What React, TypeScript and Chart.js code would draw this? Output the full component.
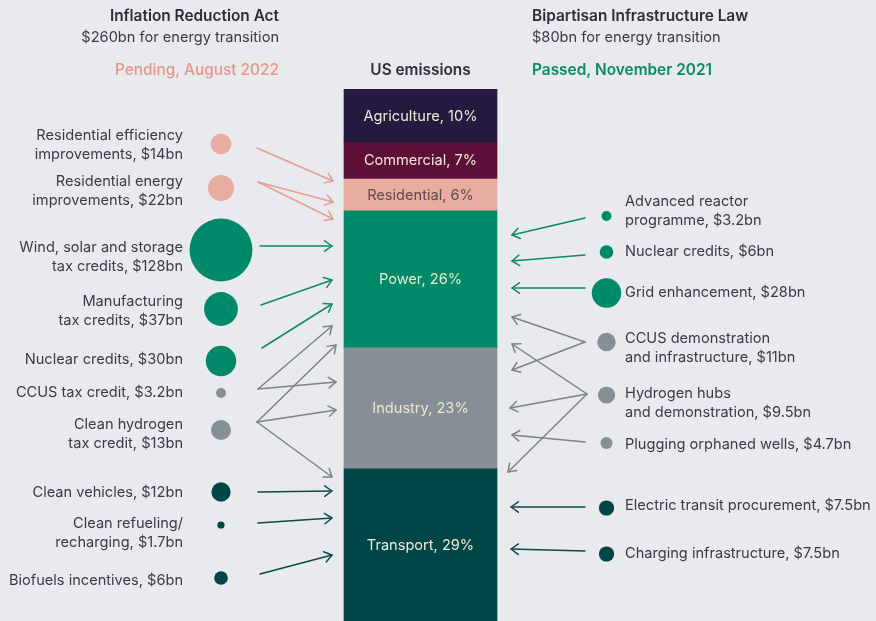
import React, { useEffect, useRef } from "react";
import { Chart, registerables } from "chart.js";
Chart.register(...registerables);

// ---------- data ----------
const sectors = ["Agriculture", "Commercial", "Residential", "Power", "Industry", "Transport"];
const sectorShares = [10, 7, 6, 26, 23, 29];

const iraLabels: string[][] = [
  ["Residential efficiency", "improvements, $14bn"],
  ["Residential energy", "improvements, $22bn"],
  ["Wind, solar and storage", "tax credits, $128bn"],
  ["Manufacturing", "tax credits, $37bn"],
  ["Nuclear credits, $30bn"],
  ["CCUS tax credit, $3.2bn"],
  ["Clean hydrogen", "tax credit, $13bn"],
  ["Clean vehicles, $12bn"],
  ["Clean refueling/", "recharging, $1.7bn"],
  ["Biofuels incentives, $6bn"],
];
const iraAmounts = [14, 22, 128, 37, 30, 3.2, 13, 12, 1.7, 6];
const iraSector = [2, 2, 3, 3, 3, 4, 4, 5, 5, 5];

const bilLabels: string[][] = [
  ["Advanced reactor", "programme, $3.2bn"],
  ["Nuclear credits, $6bn"],
  ["Grid enhancement, $28bn"],
  ["CCUS demonstration", "and infrastructure, $11bn"],
  ["Hydrogen hubs", "and demonstration, $9.5bn"],
  ["Plugging orphaned wells, $4.7bn"],
  ["Electric transit procurement, $7.5bn"],
  ["Charging infrastructure, $7.5bn"],
];
const bilAmounts = [3.2, 6, 28, 11, 9.5, 4.7, 7.5, 7.5];
const bilSector = [3, 3, 3, 4, 4, 4, 5, 5];

const headerLeft = ["Inflation Reduction Act", "$260bn for energy transition", "Pending, August 2022"];
const headerRight = ["Bipartisan Infrastructure Law", "$80bn for energy transition", "Passed, November 2021"];
const centerTitle = "US emissions";

// ---------- layout & style ----------
const W = 876;
const H = 621;
const BG = "#e9eaed";
const sectorColors = ["#24193e", "#5e0f38", "#e9aca1", "#008a6a", "#858f95", "#004647"];
const sectorTextColors = ["#f1e9d6", "#f1e9d6", "#5b4b4d", "#eee8cf", "#eee8cf", "#f1e9d6"];
const arrowColors = ["#24193e", "#5e0f38", "#e49c93", "#12876a", "#7a8489", "#0f4848"];
const labelColor = "#3c3a4a";
const FONT = "Inter, 'Noto Sans', sans-serif";
const LABEL_FONT = `14.6px ${FONT}`;
const BOLD_FONT = `600 15.4px ${FONT}`;

const barCenterX = 420.5;
const barWidth = 153;
const radiusPerRootBn = 2.78;

const iraBubbleX = 221;
const iraRowY = [144, 188, 250, 309, 361, 393, 430, 492, 525, 578];
const iraLabelX = 183;
const iraLabelY = [136, 182, 248, 302, 360, 393, 425, 493, 524, 581];
const bilBubbleX = 606.5;
const bilRowY = [216, 252, 293, 342, 395, 443, 508, 554];
const bilLabelX = 625;
const bilLabelY = [202, 252, 293, 339, 394, 445, 506, 554];
const lineGap = 18.5;

// arrows: [sourceRow, x0, y0, x1, y1]
const iraArrows = [
  [0, 257, 148, 333, 181],
  [1, 258, 182, 333, 202],
  [1, 258, 182, 333, 219],
  [2, 260, 246, 332, 246],
  [3, 261, 305, 332, 280],
  [4, 262, 348, 332, 304],
  [5, 258, 389, 332, 326],
  [5, 258, 389, 336, 382],
  [6, 257, 422, 336, 345],
  [6, 257, 422, 336, 410],
  [6, 257, 422, 332, 477],
  [7, 258, 492, 332, 491],
  [8, 258, 523, 332, 518],
  [9, 260, 574, 332, 555],
];
const bilArrows = [
  [0, 585, 218, 512, 235],
  [1, 585, 255, 512, 261],
  [2, 585, 288, 512, 288],
  [3, 585, 342, 512, 317],
  [3, 585, 342, 512, 370],
  [4, 587, 394, 512, 344],
  [4, 587, 394, 510, 408],
  [4, 587, 394, 508, 472],
  [5, 585, 442, 512, 435],
  [6, 585, 507, 511, 507],
  [7, 585, 551, 511, 549],
];

export default function App() {
  const ref = useRef<HTMLCanvasElement | null>(null);

  useEffect(() => {
    document.body.style.margin = "0";
    document.body.style.background = BG;
    const canvas = ref.current;
    if (!canvas) return;

    let acc = 0;
    const barSets = sectors.map((s, i) => {
      const start = acc;
      acc += sectorShares[i];
      return {
        type: "bar" as const,
        label: s,
        data: [{ x: barCenterX, y: [start, acc] }],
        backgroundColor: sectorColors[i],
        borderWidth: 0,
        barThickness: barWidth,
        grouped: false,
        xAxisID: "x",
        yAxisID: "y",
      };
    });
    const total = acc;

    const bubbleSet = (amounts: number[], sec: number[], x: number, rows: number[], label: string) => ({
      type: "bubble" as const,
      label,
      data: amounts.map((a, i) => ({ x, y: rows[i], r: radiusPerRootBn * Math.sqrt(a) })),
      backgroundColor: sec.map((s) => sectorColors[s]),
      borderWidth: 0,
      hoverRadius: 0,
      clip: false as any,
      xAxisID: "x",
      yAxisID: "yb",
    });

    const drawArrow = (ctx: CanvasRenderingContext2D, x0: number, y0: number, x1: number, y1: number, color: string) => {
      const ang = Math.atan2(y1 - y0, x1 - x0);
      const len = 9;
      const spread = 0.62;
      ctx.strokeStyle = color;
      ctx.lineWidth = 1.5;
      ctx.lineCap = "round";
      ctx.lineJoin = "round";
      ctx.beginPath();
      ctx.moveTo(x0, y0);
      ctx.lineTo(x1, y1);
      ctx.stroke();
      ctx.beginPath();
      ctx.moveTo(x1 - len * Math.cos(ang - spread), y1 - len * Math.sin(ang - spread));
      ctx.lineTo(x1, y1);
      ctx.lineTo(x1 - len * Math.cos(ang + spread), y1 - len * Math.sin(ang + spread));
      ctx.stroke();
    };

    const overlay = {
      id: "overlay",
      beforeDraw(chart: any) {
        const c = chart.ctx;
        c.save();
        c.fillStyle = BG;
        c.fillRect(0, 0, chart.width, chart.height);
        c.restore();
      },
      afterDatasetsDraw(chart: any) {
        const c: CanvasRenderingContext2D = chart.ctx;
        const sx = chart.scales.x;
        const sy = chart.scales.yb;
        const px = (v: number) => sx.getPixelForValue(v);
        const py = (v: number) => sy.getPixelForValue(v);
        c.save();
        // segment labels
        c.textAlign = "center";
        c.textBaseline = "middle";
        c.font = LABEL_FONT;
        sectors.forEach((s, i) => {
          const el = chart.getDatasetMeta(i).data[0];
          const yMid = (el.y + el.base) / 2;
          c.fillStyle = sectorTextColors[i];
          c.fillText(`${s}, ${sectorShares[i]}%`, el.x, yMid + 1);
        });
        // arrows
        iraArrows.forEach(([r, x0, y0, x1, y1]) =>
          drawArrow(c, px(x0), py(y0), px(x1), py(y1), arrowColors[iraSector[r]])
        );
        bilArrows.forEach(([r, x0, y0, x1, y1]) =>
          drawArrow(c, px(x0), py(y0), px(x1), py(y1), arrowColors[bilSector[r]])
        );
        // side labels
        c.fillStyle = labelColor;
        c.font = LABEL_FONT;
        c.textAlign = "right";
        iraLabels.forEach((lines, i) =>
          lines.forEach((t, k) => c.fillText(t, px(iraLabelX), py(iraLabelY[i] + k * lineGap)))
        );
        c.textAlign = "left";
        bilLabels.forEach((lines, i) =>
          lines.forEach((t, k) => c.fillText(t, px(bilLabelX), py(bilLabelY[i] + k * lineGap)))
        );
        // headers
        c.textAlign = "right";
        c.fillStyle = "#2e2c3a";
        c.font = BOLD_FONT;
        c.fillText(headerLeft[0], px(279), py(16));
        c.font = LABEL_FONT;
        c.fillStyle = labelColor;
        c.fillText(headerLeft[1], px(279), py(38));
        c.font = `500 15.4px ${FONT}`;
        c.fillStyle = "#e5958b";
        c.fillText(headerLeft[2], px(279), py(70));
        c.textAlign = "left";
        c.fillStyle = "#2e2c3a";
        c.font = BOLD_FONT;
        c.fillText(headerRight[0], px(532), py(16));
        c.font = LABEL_FONT;
        c.fillStyle = labelColor;
        c.fillText(headerRight[1], px(532), py(38));
        c.font = BOLD_FONT;
        c.fillStyle = "#0b8a68";
        c.fillText(headerRight[2], px(532), py(70));
        c.textAlign = "center";
        c.fillStyle = "#2e2c3a";
        c.font = BOLD_FONT;
        c.fillText(centerTitle, px(barCenterX), py(70));
        c.restore();
      },
    };

    const chart = new Chart(canvas, {
      type: "bar",
      data: {
        datasets: [
          ...barSets,
          bubbleSet(iraAmounts, iraSector, iraBubbleX, iraRowY, "Inflation Reduction Act"),
          bubbleSet(bilAmounts, bilSector, bilBubbleX, bilRowY, "Bipartisan Infrastructure Law"),
        ] as any,
      },
      options: {
        responsive: false,
        animation: false,
        layout: { autoPadding: false, padding: { top: 89, bottom: 0, left: 0, right: 0 } },
        plugins: { legend: { display: false }, tooltip: { enabled: false } },
        events: [],
        scales: {
          x: { type: "linear", min: 0, max: W, offset: false, display: false },
          y: { type: "linear", min: 0, max: total, reverse: true, display: false },
          yb: { type: "linear", min: 89, max: H, reverse: true, display: false },
        },
      },
      plugins: [overlay],
    });
    return () => chart.destroy();
  }, []);

  return <canvas ref={ref} width={W} height={H} style={{ display: "block" }} />;
}
